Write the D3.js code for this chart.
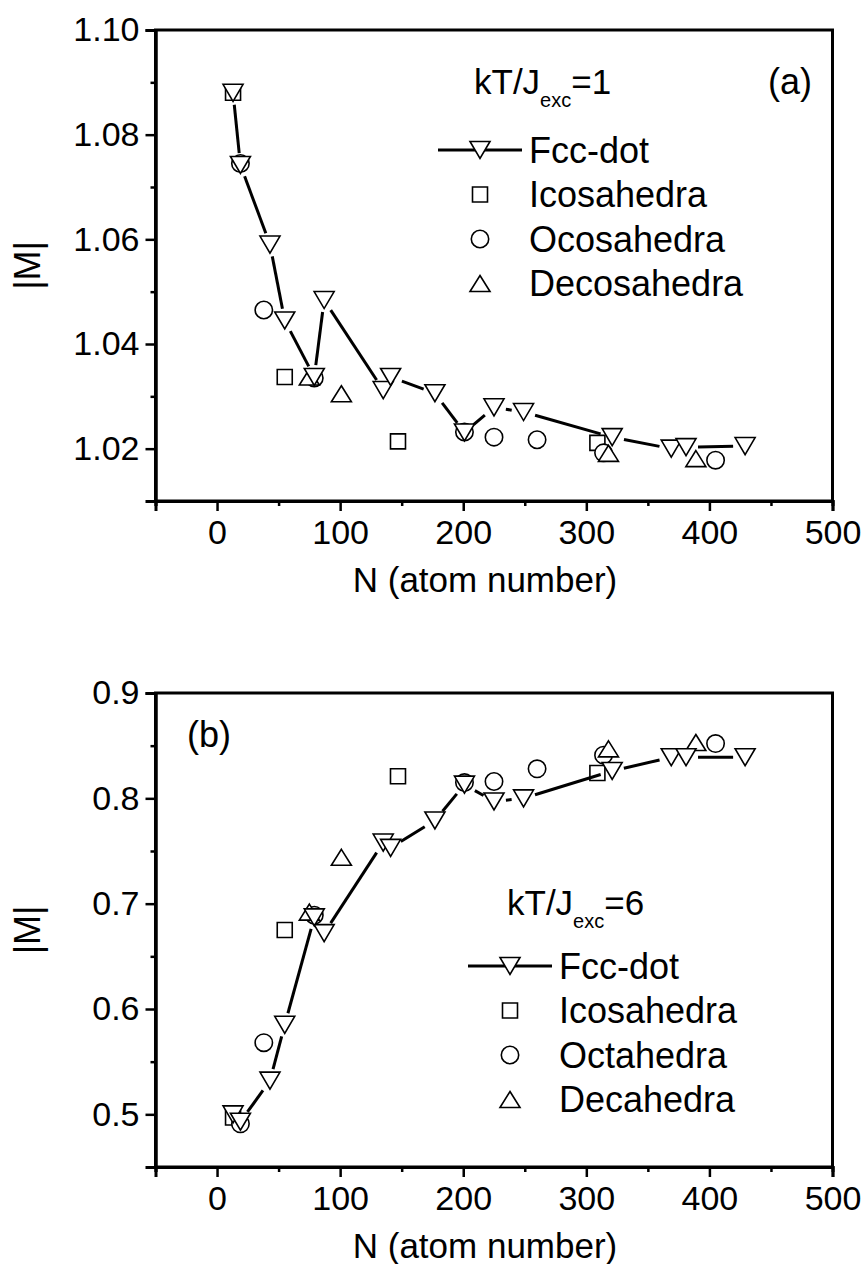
<!DOCTYPE html>
<html>
<head>
<meta charset="utf-8">
<script src="https://cdn.jsdelivr.net/npm/d3@7"></script>
<style>
  body { margin: 0; background: #fff; }
  text { font-family: "Liberation Sans", Arial, sans-serif; fill: #000; }
</style>
</head>
<body>
<script>
// shared x values of the fcc-dot series
var fccN = [13, 19, 43, 55, 79, 87, 135, 141, 177, 201, 225, 249, 321, 369, 381, 429];
var icoN = [13, 55, 147, 309];
var octN = [19, 38, 79, 201, 225, 260, 314, 405];
var decN = [75, 101, 318, 389];

// panel (a), kT/J = 1
var fccA = [1.088, 1.0742, 1.059, 1.0445, 1.0337, 1.0484, 1.0312, 1.0337, 1.0306, 1.0231, 1.0279, 1.027, 1.0222, 1.0200, 1.0203, 1.0205];
var icoA = [1.088, 1.0337, 1.0214, 1.0211];
var octA = [1.0745, 1.0465, 1.0335, 1.0232, 1.0222, 1.0217, 1.0192, 1.0178];
var decA = [1.0337, 1.0305, 1.0191, 1.0181];

// panel (b), kT/J = 6
var fccB = [0.500, 0.493, 0.532, 0.585, 0.687, 0.672, 0.758, 0.753, 0.779, 0.813, 0.797, 0.800, 0.826, 0.839, 0.839, 0.839];
var icoB = [0.497, 0.675, 0.821, 0.824];
var octB = [0.491, 0.568, 0.689, 0.815, 0.816, 0.828, 0.841, 0.852];
var decB = [0.692, 0.744, 0.847, 0.853];

var xTicks = [0, 100, 200, 300, 400, 500];
var xMinor = [-50, 50, 150, 250, 350, 450];
var yTicksA = [1.02, 1.04, 1.06, 1.08, 1.10];
var yMinorA = [1.01, 1.03, 1.05, 1.07, 1.09];
var yTicksB = [0.5, 0.6, 0.7, 0.8, 0.9];
var yMinorB = [0.45, 0.55, 0.65, 0.75, 0.85];

var W = 864, H = 1264;
var svg = d3.select("body").append("svg").attr("width", W).attr("height", H);

// marker shapes
function markPath(kind) {
  if (kind == "down") return "M-10,-8.5L10,-8.5L0,8.5Z";
  if (kind == "up") return "M0,-8L10,8L-10,8Z";
  if (kind == "square") return "M-7.5,-7.5H7.5V7.5H-7.5Z";
  return d3.arc()({innerRadius: 0, outerRadius: 8.7, startAngle: 0, endAngle: 2 * Math.PI});
}

function drawPanel(opt) {
  var x = d3.scaleLinear().domain([-50, 500]).range([155.5, 832.5]);
  var y = d3.scaleLinear().domain(opt.yDom).range([opt.bottom, opt.top]);
  var g = svg.append("g");

  // frame
  g.append("rect")
    .attr("x", x(-50)).attr("y", opt.top)
    .attr("width", x(500) - x(-50)).attr("height", opt.bottom - opt.top)
    .attr("fill", "none").attr("stroke", "#000").attr("stroke-width", 3);

  // axes
  g.append("g").attr("transform", "translate(0," + opt.bottom + ")")
    .call(d3.axisBottom(x).tickValues(xTicks).tickSize(10).tickPadding(9).tickFormat(d3.format("d")));
  g.append("g").attr("transform", "translate(0," + opt.bottom + ")")
    .call(d3.axisBottom(x).tickValues(xMinor).tickSize(5).tickFormat(""));
  g.append("g").attr("transform", "translate(" + x(-50) + ",0)")
    .call(d3.axisLeft(y).tickValues(opt.yTicks).tickSize(10).tickPadding(6).tickFormat(d3.format(opt.fmt)));
  g.append("g").attr("transform", "translate(" + x(-50) + ",0)")
    .call(d3.axisLeft(y).tickValues(opt.yMinor).tickSize(5).tickFormat(""));
  g.selectAll(".domain").attr("stroke-width", 3);
  g.selectAll(".tick line").attr("stroke-width", 2.5);
  g.selectAll(".tick text").attr("font-size", 34).attr("font-family", "Liberation Sans, Arial, sans-serif");

  // axis titles
  g.append("text").attr("x", 485).attr("y", opt.bottom + 91)
    .attr("text-anchor", "middle").attr("font-size", 35).text("N (atom number)");
  g.append("text")
    .attr("transform", "translate(40," + (opt.top + opt.bottom) / 2 + ") rotate(-90)")
    .attr("text-anchor", "middle").attr("font-size", 36).text("|M|");

  // scatter series first, fcc on top
  var series = [
    {n: icoN, v: opt.ico, k: "square"},
    {n: octN, v: opt.oct, k: "circle"},
    {n: decN, v: opt.dec, k: "up"}
  ];
  series.forEach(function(s) {
    g.selectAll(null).data(s.n).enter().append("path")
      .attr("d", markPath(s.k))
      .attr("transform", function(d, i) { return "translate(" + x(d) + "," + y(s.v[i]) + ")"; })
      .attr("fill", "#fff").attr("stroke", "#000").attr("stroke-width", 1.6);
  });

  // fcc line with gaps round the markers
  var pts = fccN.map(function(d, i) { return [x(d), y(opt.fcc[i])]; });
  var gap = 12;
  for (var i = 0; i < pts.length - 1; i++) {
    var p = pts[i], q = pts[i + 1];
    var dx = q[0] - p[0], dy = q[1] - p[1], len = Math.sqrt(dx * dx + dy * dy);
    if (len <= 2 * gap + 2) continue;
    var ux = dx / len, uy = dy / len;
    g.append("line")
      .attr("x1", p[0] + ux * gap).attr("y1", p[1] + uy * gap)
      .attr("x2", q[0] - ux * gap).attr("y2", q[1] - uy * gap)
      .attr("stroke", "#000").attr("stroke-width", 3);
  }
  g.selectAll(null).data(pts).enter().append("path")
    .attr("d", markPath("down"))
    .attr("transform", function(d) { return "translate(" + d[0] + "," + d[1] + ")"; })
    .attr("fill", "#fff").attr("stroke", "#000").attr("stroke-width", 1.6);

  // panel label
  g.append("text").attr("x", opt.lab[0]).attr("y", opt.lab[1])
    .attr("font-size", 36).text(opt.label);

  // kT/J text
  var kt = g.append("text").attr("x", opt.kt[0]).attr("y", opt.kt[1]).attr("font-size", 35);
  kt.append("tspan").text("kT/J");
  kt.append("tspan").attr("font-size", 20).attr("dy", 13).text("exc");
  kt.append("tspan").attr("dy", -13).text("=" + opt.ktVal);

  // legend
  var lg = opt.leg;
  lg.names.forEach(function(name, i) {
    var cy = lg.y + i * 44.5;
    if (i == 0) {
      g.append("line").attr("x1", lg.x - 42).attr("x2", lg.x + 42)
        .attr("y1", cy).attr("y2", cy).attr("stroke", "#000").attr("stroke-width", 3);
    }
    g.append("path").attr("d", markPath(lg.kinds[i]))
      .attr("transform", "translate(" + lg.x + "," + cy + ")")
      .attr("fill", "#fff").attr("stroke", "#000").attr("stroke-width", 1.6);
    g.append("text").attr("x", lg.x + 49).attr("y", cy + 12.5)
      .attr("font-size", 36).text(name);
  });
}

drawPanel({
  yDom: [1.01, 1.10], top: 30, bottom: 501,
  yTicks: yTicksA, yMinor: yMinorA, fmt: ".2f",
  fcc: fccA, ico: icoA, oct: octA, dec: decA,
  label: "(a)", lab: [768, 94],
  kt: [474, 94], ktVal: "1",
  leg: {x: 480, y: 150, kinds: ["down", "square", "circle", "up"],
        names: ["Fcc-dot", "Icosahedra", "Ocosahedra", "Decosahedra"]}
});

drawPanel({
  yDom: [0.45, 0.9], top: 693, bottom: 1167,
  yTicks: yTicksB, yMinor: yMinorB, fmt: ".1f",
  fcc: fccB, ico: icoB, oct: octB, dec: decB,
  label: "(b)", lab: [187, 747],
  kt: [507, 915], ktVal: "6",
  leg: {x: 510, y: 966, kinds: ["down", "square", "circle", "up"],
        names: ["Fcc-dot", "Icosahedra", "Octahedra", "Decahedra"]}
});
</script>
</body>
</html>
